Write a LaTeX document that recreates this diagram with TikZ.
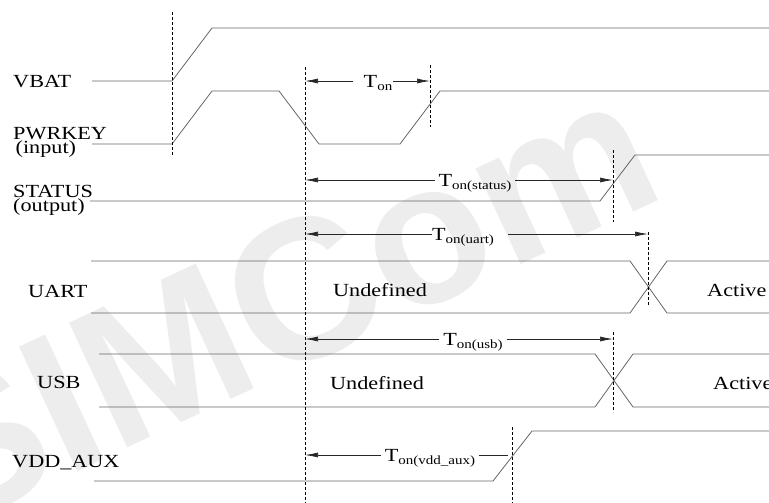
\documentclass[tikz,border=0pt]{standalone}
\usepackage{fontspec}
\setmainfont{Liberation Serif}
\setsansfont{Liberation Sans}
\usetikzlibrary{arrows.meta}

\tikzset{
  sig/.style={draw=black!60, line width=0.8pt},
  markline/.style={draw=black, line width=0.7pt, dash pattern=on 3pt off 2pt},
  tarrow/.style={draw=black!85, line width=0.7pt, -{Latex[length=13pt,width=5pt]}},
  tline/.style={draw=black!85, line width=0.7pt},
  namelabel/.style={font=\fontsize{18.5}{14}\selectfont, xscale=1.2, inner sep=0pt, align=left},
  tonlabel/.style={font=\fontsize{18.5}{14}\selectfont, xscale=1.2, inner xsep=3pt,
    inner ysep=0pt, text height=12.2pt, text depth=0pt},
}
\newcommand{\Tsub}[1]{T\raisebox{-3.5pt}{\fontsize{12.5}{12.5}\selectfont on#1}}

\begin{document}
\begin{tikzpicture}[x=1pt,y=-1pt]
  \useasboundingbox (0,0) rectangle (769,503);

  % watermark
  \node[font=\sffamily\bfseries\fontsize{200}{200}\selectfont, text=black!7, rotate=25]
    (wm) at (278,302) {SIMCom};

  % signal names
  \node[namelabel, anchor=base west] (vbat) at (13,87.5) {VBAT};
  \node[namelabel, anchor=north west] (pwrkey) at (13,127) {PWRKEY\\\hspace{2pt}(input)};
  \node[namelabel, anchor=north west] (status) at (13,185) {STATUS\\(output)};
  \node[namelabel, anchor=base west] (uart) at (28,297) {UART};
  \node[namelabel, anchor=base west] (usb) at (37,388) {USB};
  \node[namelabel, anchor=base west] (vddaux) at (12,467) {VDD\_AUX};

  % waveforms
  \draw[sig] (92,81) -- (172,81) -- (212,28) -- (769,28);
  \draw[sig] (92,144) -- (172,144) -- (212,91) -- (279,91) -- (319,144)
    -- (400,144) -- (440,91) -- (769,91);
  \draw[sig] (90,201) -- (600,201) -- (635,155) -- (769,155);
  % UART bus
  \draw[sig] (91,261) -- (630,261) -- (667,313) -- (769,313);
  \draw[sig] (91,313) -- (630,313) -- (667,261) -- (769,261);
  % USB bus
  \draw[sig] (99,354) -- (595,354) -- (633,407) -- (769,407);
  \draw[sig] (99,407) -- (595,407) -- (633,354) -- (769,354);
  \draw[sig] (94,481) -- (493,481) -- (532,431) -- (769,431);

  \node[namelabel] (uartundef) at (380,290) {Undefined};
  \node[namelabel, anchor=west] (uartact) at (707,290) {Active};
  \node[namelabel] (usbundef) at (377,383) {Undefined};
  \node[namelabel, anchor=west] (usbact) at (713,383) {Active};

  % marker lines
  \draw[markline] (172,12) -- (172,156);
  \draw[markline] (305,67) -- (305,503);
  \draw[markline] (430,65) -- (430,127);
  \draw[markline] (613,150) -- (613,222);
  \draw[markline] (648,232) -- (648,305);
  \draw[markline] (613,332) -- (613,412);
  \draw[markline] (512,427) -- (512,503);

  % timing arrows
  \coordinate (onL) at (305,81);       \coordinate (onR) at (430,81);
  \coordinate (statL) at (305,180);    \coordinate (statR) at (613,180);
  \coordinate (uartL) at (305,234);    \coordinate (uartR) at (648,234);
  \coordinate (usbL) at (305,339);     \coordinate (usbR) at (613,339);
  \coordinate (auxL) at (305,455);     \coordinate (auxR) at (508,455);

  \node[tonlabel, inner xsep=0pt] (ton) at (378,81) {\Tsub{}};
  \draw[tarrow] ([xshift=-10pt]ton.west) -- (onL);
  \draw[tarrow] (ton.east) -- (onR);

  \node[tonlabel] (tonstat) at (475,180) {\Tsub{(status)}};
  \draw[tarrow] (tonstat.west) -- (statL);
  \draw[tarrow] (tonstat.east) -- (statR);

  \node[tonlabel, inner xsep=0pt] (tonuart) at (463,234) {\Tsub{(uart)}};
  \draw[tarrow] (tonuart.west) -- (uartL);
  \draw[tarrow] ([xshift=14pt]tonuart.east) -- (uartR);

  \node[tonlabel] (tonusb) at (473,339) {\Tsub{(usb)}};
  \draw[tarrow] (tonusb.west) -- (usbL);
  \draw[tarrow] (tonusb.east) -- (usbR);

  \node[tonlabel] (tonaux) at (430,455) {\Tsub{(vdd\_aux)}};
  \draw[tarrow] (tonaux.west) -- (auxL);
  \draw[tline] (tonaux.east) -- (auxR);
\end{tikzpicture}
\end{document}
